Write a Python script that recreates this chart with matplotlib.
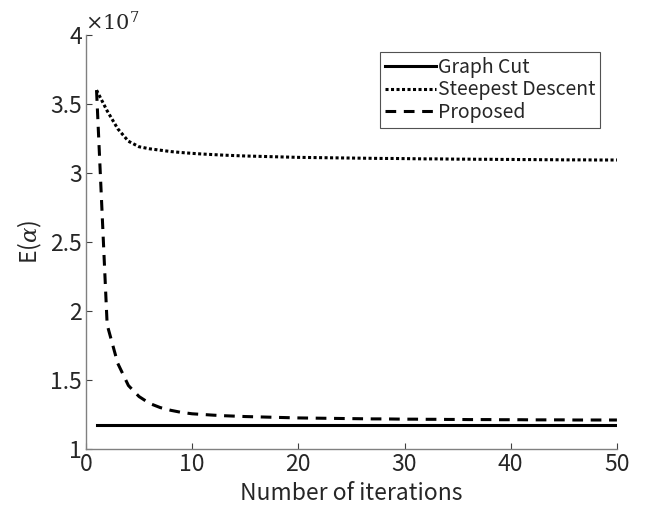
import matplotlib
matplotlib.use("Agg")
import matplotlib.pyplot as plt
import numpy as np

plt.rcParams['font.family'] = ['Noto Sans CJK JP', 'DejaVu Sans']
plt.rcParams['mathtext.fontset'] = 'dejavuserif'

iterations = np.arange(1, 51)

graph_cut = [1.175] * 50

steepest = [3.60, 3.45, 3.32, 3.23, 3.19, 3.175, 3.165, 3.155, 3.148, 3.142,
            3.137, 3.133, 3.129, 3.126, 3.123, 3.121, 3.119, 3.117, 3.115, 3.113,
            3.112, 3.111, 3.110, 3.109, 3.108, 3.107, 3.106, 3.105, 3.105, 3.104,
            3.103, 3.102, 3.102, 3.101, 3.100, 3.100, 3.099, 3.099, 3.098, 3.098,
            3.097, 3.097, 3.096, 3.096, 3.095, 3.095, 3.095, 3.094, 3.094, 3.094]

proposed = [3.60, 1.90, 1.62, 1.46, 1.38, 1.33, 1.30, 1.28, 1.265, 1.255,
            1.250, 1.245, 1.241, 1.238, 1.235, 1.233, 1.231, 1.229, 1.227, 1.225,
            1.224, 1.223, 1.222, 1.221, 1.220, 1.219, 1.218, 1.218, 1.217, 1.216,
            1.216, 1.215, 1.215, 1.214, 1.214, 1.213, 1.213, 1.213, 1.212, 1.212,
            1.212, 1.211, 1.211, 1.211, 1.211, 1.210, 1.210, 1.210, 1.210, 1.210]

fig = plt.figure(figsize=(6.46, 5.14), dpi=100)
ax = fig.add_axes([0.133, 0.1265, 0.822, 0.8055])

txt = '#262626'
ax.plot(iterations, np.array(graph_cut) * 1e7, color='black', lw=2.2, ls='-', label='Graph Cut')
ax.plot(iterations, np.array(steepest) * 1e7, color='black', lw=2.2, ls=(0, (1, 0.8)), label='Steepest Descent')
ax.plot(iterations, np.array(proposed) * 1e7, color='black', lw=2.2, ls=(0, (3.5, 2.5)), label='Proposed')

ax.set_xlim(0, 50)
ax.set_ylim(1e7, 4e7)
ax.set_xticks([0, 10, 20, 30, 40, 50])
ax.set_yticks(np.array([1, 1.5, 2, 2.5, 3, 3.5, 4]) * 1e7)
ax.set_yticklabels(['1', '1.5', '2', '2.5', '3', '3.5', '4'])

for s in ['top', 'right']:
    ax.spines[s].set_visible(False)
for s in ['left', 'bottom']:
    ax.spines[s].set_color('#808080')
    ax.spines[s].set_linewidth(1.0)
ax.tick_params(direction='in', length=4, width=0.8, color='#404040',
               labelsize=16.5, labelcolor=txt, pad=3)

ax.set_xlabel('Number of iterations', fontsize=16.5, color=txt, labelpad=4)
ax.set_ylabel(r'E($\alpha$)', fontsize=16.5, color=txt, labelpad=4)
fig.text(0.131, 0.93, r'$\times10^{7}$', fontsize=15, color=txt, ha='left', va='bottom')

leg = ax.legend(loc='upper right', bbox_to_anchor=(0.968, 0.959), fontsize=14,
                frameon=True, fancybox=False, handlelength=2.6, handletextpad=0.1,
                borderpad=0.25, labelspacing=0.08, borderaxespad=0)
leg.get_frame().set_edgecolor('#262626')
leg.get_frame().set_linewidth(0.8)
for t in leg.get_texts():
    t.set_color(txt)

fig.savefig('out.png', dpi=100)
